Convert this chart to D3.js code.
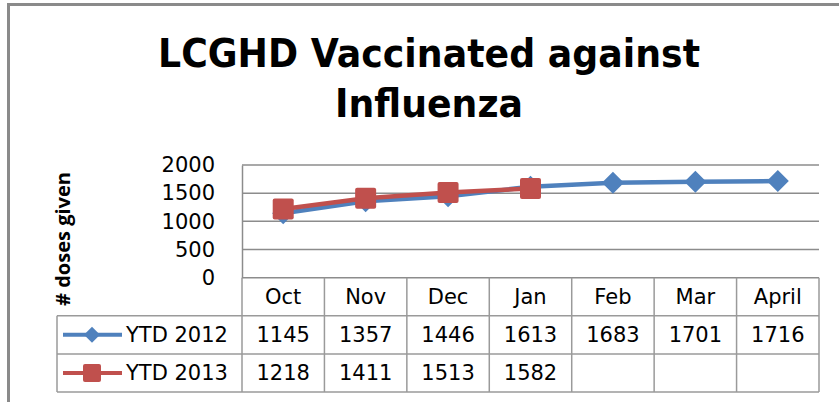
<html lang="en">
<head>
    <meta charset="UTF-8">
    <title>LCGHD Vaccinated against Influenza</title>
    <script src="https://d3js.org/d3.v7.min.js"></script>
    <style>
        body { margin: 0; background: #fff; }
        text { font-family: "DejaVu Sans", sans-serif; fill: #000; }
    </style>
</head>
<body>
<div id="chart"></div>
<script>
    // data
    var months = ["Oct", "Nov", "Dec", "Jan", "Feb", "Mar", "April"];
    var ytd2012 = [1145, 1357, 1446, 1613, 1683, 1701, 1716];
    var ytd2013 = [1218, 1411, 1513, 1582];
    var yTicks = [0, 500, 1000, 1500, 2000];
    var seriesNames = ["YTD 2012", "YTD 2013"];

    var W = 839, H = 402;
    var plot = {left: 242, right: 819, top: 165, bottom: 277.7};
    var rowH = [38, 38.3, 38];   // category row, 2012 row, 2013 row
    var tableLeft = 57;
    var blue = "#4f81bd", red = "#c0504d", grid = "#8c8c8c";
    var fs = 21;

    var svg = d3.select("#chart").append("svg")
        .attr("width", W).attr("height", H);

    // outer frame (left + top edges visible)
    svg.append("path")
        .attr("d", "M8.5," + H + "V4.5H" + W)
        .attr("fill", "none").attr("stroke", "#8a8a8a").attr("stroke-width", 3);

    // title
    var title = svg.append("g").attr("font-weight", "bold")
        .style("font-family", "'Open Sans', sans-serif");
    title.append("text").attr("x", 429).attr("y", 67)
        .attr("text-anchor", "middle").attr("font-size", 39)
        .attr("textLength", 542).attr("lengthAdjust", "spacingAndGlyphs")
        .text("LCGHD Vaccinated against");
    title.append("text").attr("x", 429).attr("y", 117)
        .attr("text-anchor", "middle").attr("font-size", 39)
        .attr("textLength", 188).attr("lengthAdjust", "spacingAndGlyphs")
        .text("Influenza");

    var x = d3.scaleBand().domain(months).range([plot.left, plot.right]);
    var y = d3.scaleLinear().domain([0, 2000]).range([plot.bottom, plot.top]);

    // gridlines
    svg.append("g").selectAll("line").data(yTicks).join("line")
        .attr("x1", plot.left).attr("x2", plot.right)
        .attr("y1", function (d) { return y(d); })
        .attr("y2", function (d) { return y(d); })
        .attr("stroke", grid).attr("stroke-width", 1.5);

    // y axis
    var yAxis = svg.append("g")
        .attr("transform", "translate(" + plot.left + ",0)")
        .call(d3.axisLeft(y).tickValues(yTicks).tickFormat(d3.format("d"))
            .tickSize(0).tickPadding(27));
    yAxis.select(".domain").attr("stroke", grid).attr("stroke-width", 1.5);
    yAxis.selectAll("text").attr("font-size", fs).attr("font-family", "DejaVu Sans");

    svg.append("text")
        .attr("transform", "translate(70,239) rotate(-90)")
        .attr("text-anchor", "middle").attr("font-size", 19).attr("font-weight", "bold")
        .attr("textLength", 134).attr("lengthAdjust", "spacingAndGlyphs")
        .style("font-family", "'Open Sans', sans-serif")
        .text("# doses given");

    // data table
    var r0 = plot.bottom, r1 = r0 + rowH[0], r2 = r1 + rowH[1], r3 = r2 + rowH[2];
    var tbl = svg.append("g").attr("stroke", "#9a9a9a").attr("stroke-width", 1.5);
    [r1, r2, r3].forEach(function (yy) {
        tbl.append("line").attr("x1", tableLeft).attr("x2", plot.right)
            .attr("y1", yy).attr("y2", yy);
    });
    tbl.append("line").attr("x1", tableLeft).attr("x2", tableLeft).attr("y1", r1).attr("y2", r3);
    tbl.append("line").attr("x1", plot.left).attr("x2", plot.left).attr("y1", r0).attr("y2", r3);
    months.forEach(function (m) {
        var xx = x(m) + x.bandwidth();
        tbl.append("line").attr("x1", xx).attr("x2", xx).attr("y1", r0).attr("y2", r3);
    });

    var cx = function (d) { return x(d) + x.bandwidth() / 2; };
    svg.append("g").selectAll("text").data(months).join("text")
        .attr("x", cx).attr("y", (r0 + r1) / 2).attr("dy", "0.35em")
        .attr("text-anchor", "middle").attr("font-size", fs)
        .text(function (d) { return d; });

    var rows = [ytd2012, ytd2013];
    var rowMid = [(r1 + r2) / 2, (r2 + r3) / 2];
    rows.forEach(function (vals, i) {
        svg.append("g").selectAll("text").data(vals).join("text")
            .attr("x", function (d, j) { return cx(months[j]); })
            .attr("y", rowMid[i]).attr("dy", "0.35em")
            .attr("text-anchor", "middle").attr("font-size", fs)
            .text(function (d) { return d; });
    });

    // markers
    var diamond = function (g, s) {
        g.append("path").attr("d", "M0," + (-s) + "L" + s + ",0L0," + s + "L" + (-s) + ",0Z")
            .attr("fill", blue);
    };
    var square = function (g, s) {
        g.append("rect").attr("x", -s / 2).attr("y", -s / 2).attr("width", s).attr("height", s)
            .attr("rx", 2).attr("fill", red);
    };

    // legend keys in the table
    var colors = [blue, red];
    seriesNames.forEach(function (name, i) {
        var k = svg.append("g").attr("transform", "translate(0," + rowMid[i] + ")");
        k.append("line").attr("x1", 63).attr("x2", 122)
            .attr("stroke", colors[i]).attr("stroke-width", 4);
        var m = k.append("g").attr("transform", "translate(92,0)");
        if (i === 0) diamond(m, 8); else square(m, 18);
        k.append("text").attr("x", 126).attr("dy", "0.35em").attr("font-size", fs).text(name);
    });

    // series lines
    var line = d3.line()
        .x(function (d, j) { return cx(months[j]); })
        .y(function (d) { return y(d); });

    svg.append("path").datum(ytd2012).attr("d", line)
        .attr("fill", "none").attr("stroke", blue).attr("stroke-width", 4.5);
    ytd2012.forEach(function (d, j) {
        diamond(svg.append("g").attr("transform", "translate(" + cx(months[j]) + "," + y(d) + ")"), 11);
    });

    svg.append("path").datum(ytd2013).attr("d", line)
        .attr("fill", "none").attr("stroke", red).attr("stroke-width", 4.5);
    ytd2013.forEach(function (d, j) {
        square(svg.append("g").attr("transform", "translate(" + cx(months[j]) + "," + y(d) + ")"), 21);
    });
</script>
</body>
</html>
